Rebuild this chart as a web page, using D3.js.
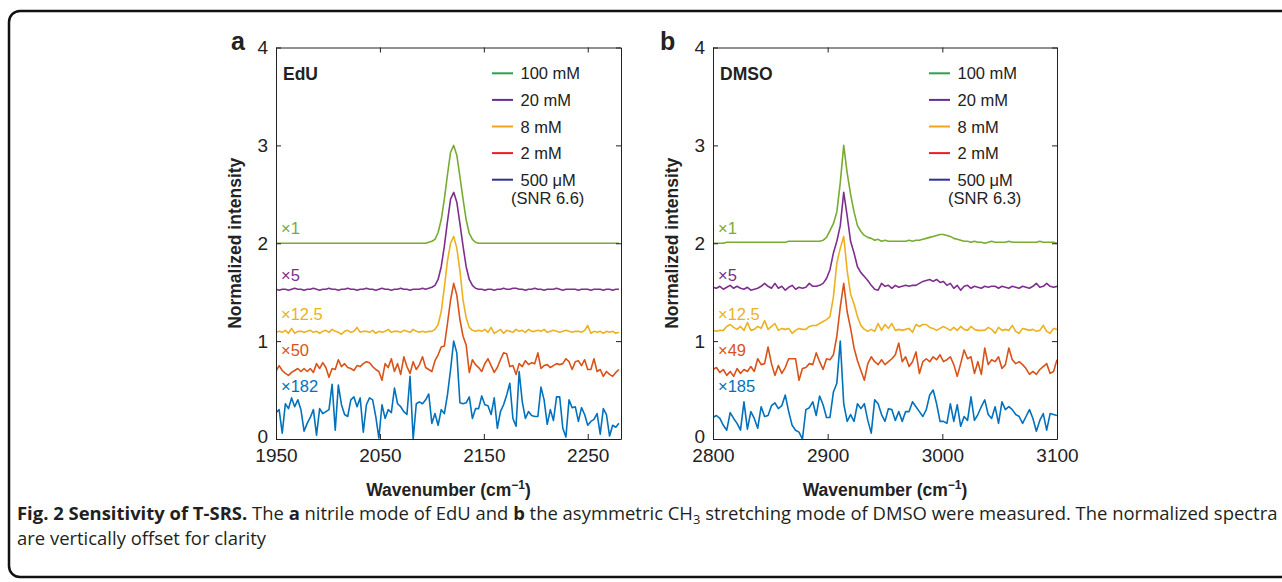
<!DOCTYPE html>
<html>
<head>
<meta charset="utf-8">
<script src="https://cdn.jsdelivr.net/npm/d3@7"></script>
<style>
  html, body { margin: 0; padding: 0; background: #fff; }
  svg { display: block; }
  .axis text { font-family: 'Liberation Sans', Arial, sans-serif; fill: #222; }
  .axis path, .axis line { stroke: #222; stroke-width: 1; }
  .lbl { font-family: 'Liberation Sans', Arial, sans-serif; fill: #222; }
</style>
</head>
<body>
<svg id="chart" width="1282" height="582"></svg>
<script>
// ---- data ----
// panel a: EdU nitrile mode, wavenumber grid in cm-1
const edu_wavenumber = d3.range(1950, 2281, 3);
const edu_100mM = [
  2.00,2.00,2.00,2.00,2.00,2.00,2.00,2.00,2.00,2.00,
  2.00,2.00,2.00,2.00,2.00,2.00,2.00,2.00,2.00,2.00,
  2.00,2.00,2.00,2.00,2.00,2.00,2.00,2.00,2.00,2.00,
  2.00,2.00,2.00,2.00,2.00,2.00,2.00,2.00,2.00,2.00,
  2.00,2.00,2.00,2.00,2.00,2.00,2.00,2.00,2.00,2.01,
  2.02,2.04,2.11,2.24,2.45,2.70,2.93,3.00,2.90,2.68,
  2.45,2.24,2.10,2.04,2.01,2.00,2.00,2.00,2.00,2.00,
  2.00,2.00,2.00,2.00,2.00,2.00,2.00,2.00,2.00,2.00,
  2.00,2.00,2.00,2.00,2.00,2.00,2.00,2.00,2.00,2.00,
  2.00,2.00,2.00,2.00,2.00,2.00,2.00,2.00,2.00,2.00,
  2.00,2.00,2.00,2.00,2.00,2.00,2.00,2.00,2.00,2.00,2.00];
const edu_20mM = [
  1.53,1.52,1.53,1.53,1.52,1.53,1.54,1.53,1.53,1.52,
  1.53,1.53,1.54,1.53,1.52,1.53,1.53,1.54,1.53,1.53,
  1.52,1.53,1.53,1.54,1.53,1.53,1.52,1.53,1.53,1.54,
  1.53,1.53,1.52,1.53,1.54,1.53,1.53,1.52,1.53,1.53,
  1.54,1.53,1.53,1.52,1.53,1.53,1.53,1.54,1.53,1.54,
  1.55,1.57,1.63,1.76,1.97,2.22,2.45,2.52,2.42,2.20,
  1.97,1.76,1.63,1.57,1.54,1.53,1.53,1.52,1.53,1.53,
  1.52,1.53,1.53,1.54,1.53,1.53,1.54,1.54,1.53,1.53,
  1.52,1.53,1.53,1.54,1.53,1.53,1.52,1.53,1.53,1.53,
  1.54,1.53,1.52,1.53,1.53,1.53,1.53,1.52,1.53,1.53,
  1.53,1.52,1.53,1.53,1.53,1.52,1.53,1.53,1.52,1.53,1.53];
const edu_8mM = [
  1.09,1.10,1.09,1.11,1.08,1.13,1.08,1.10,1.10,1.09,
  1.10,1.11,1.09,1.10,1.08,1.10,1.11,1.09,1.12,1.10,
  1.09,1.07,1.10,1.11,1.09,1.10,1.14,1.09,1.10,1.10,
  1.09,1.11,1.08,1.10,1.09,1.10,1.12,1.09,1.10,1.10,
  1.09,1.11,1.10,1.09,1.12,1.10,1.09,1.10,1.09,1.10,
  1.10,1.12,1.17,1.30,1.55,1.82,2.00,2.07,1.95,1.72,
  1.42,1.24,1.14,1.11,1.10,1.11,1.10,1.12,1.09,1.14,
  1.08,1.10,1.12,1.08,1.11,1.10,1.09,1.12,1.10,1.11,
  1.09,1.12,1.10,1.10,1.11,1.10,1.12,1.09,1.10,1.11,
  1.10,1.09,1.10,1.11,1.10,1.09,1.10,1.10,1.09,1.11,
  1.16,1.08,1.10,1.09,1.10,1.08,1.10,1.09,1.10,1.08,1.09];
const edu_2mM = [
  0.69,0.75,0.70,0.67,0.65,0.68,0.70,0.72,0.69,0.72,
  0.69,0.72,0.68,0.77,0.72,0.78,0.73,0.63,0.72,0.71,
  0.81,0.74,0.77,0.73,0.72,0.70,0.75,0.74,0.77,0.79,
  0.78,0.74,0.71,0.69,0.60,0.77,0.73,0.82,0.69,0.77,
  0.66,0.84,0.74,0.67,0.79,0.71,0.76,0.84,0.73,0.71,
  0.69,0.80,0.86,0.94,0.95,1.18,1.42,1.59,1.47,1.22,
  1.05,0.96,0.68,0.81,0.76,0.73,0.69,0.77,0.82,0.75,
  0.68,0.73,0.81,0.88,0.87,0.74,0.75,0.66,0.77,0.74,
  0.80,0.76,0.78,0.77,0.88,0.72,0.75,0.76,0.73,0.75,
  0.77,0.76,0.77,0.82,0.79,0.71,0.79,0.80,0.75,0.81,
  0.71,0.71,0.82,0.69,0.71,0.64,0.69,0.66,0.64,0.68,0.71];
const edu_500uM = [
  0.27,0.30,0.06,0.36,0.31,0.42,0.33,0.40,0.30,0.08,
  0.16,0.22,0.30,0.04,0.31,0.26,0.28,0.30,0.56,0.09,
  0.55,0.35,0.25,0.23,0.40,0.43,0.33,0.42,0.07,0.35,
  0.42,0.40,0.23,0.01,0.35,0.21,0.30,0.27,0.52,0.36,
  0.33,0.28,0.25,0.64,0.00,0.36,0.38,0.36,0.40,0.46,
  0.16,0.26,0.14,0.30,0.26,0.45,0.71,1.00,0.88,0.37,
  0.36,0.37,0.43,0.21,0.31,0.31,0.44,0.35,0.34,0.25,
  0.42,0.11,0.28,0.35,0.45,0.57,0.21,0.13,0.69,0.38,
  0.21,0.28,0.24,0.23,0.23,0.53,0.40,0.15,0.30,0.19,
  0.43,0.43,0.11,0.02,0.40,0.32,0.33,0.18,0.32,0.25,
  0.14,0.18,0.20,0.26,0.05,0.31,0.25,0.03,0.14,0.12,0.16];

// panel b: DMSO CH3 stretch
const dmso_wavenumber = d3.range(2800, 3101, 3);
const dmso_100mM = [
  2.00,2.00,2.00,2.00,2.01,2.01,2.01,2.01,2.01,2.01,
  2.01,2.01,2.01,2.01,2.01,2.01,2.01,2.01,2.01,2.01,
  2.01,2.01,2.02,2.02,2.02,2.02,2.02,2.02,2.02,2.02,
  2.02,2.02,2.03,2.06,2.13,2.20,2.32,2.62,3.00,2.72,
  2.50,2.32,2.18,2.12,2.08,2.06,2.05,2.03,2.04,2.02,
  2.03,2.02,2.02,2.02,2.02,2.02,2.02,2.03,2.02,2.03,
  2.03,2.04,2.05,2.06,2.07,2.08,2.09,2.09,2.08,2.07,
  2.05,2.04,2.03,2.02,2.02,2.01,2.02,2.01,2.01,2.00,
  2.01,2.02,2.01,2.01,2.01,2.01,2.02,2.01,2.01,2.01,
  2.01,2.01,2.01,2.01,2.01,2.02,2.01,2.01,2.01,2.01,2.00];
const dmso_20mM = [
  1.55,1.54,1.56,1.53,1.55,1.57,1.54,1.56,1.54,1.53,
  1.55,1.52,1.53,1.54,1.56,1.59,1.56,1.54,1.59,1.54,
  1.56,1.52,1.55,1.57,1.53,1.55,1.54,1.55,1.59,1.56,
  1.56,1.57,1.59,1.64,1.73,1.90,2.02,2.18,2.52,2.28,
  2.02,1.90,1.76,1.70,1.66,1.62,1.57,1.53,1.52,1.59,
  1.56,1.57,1.54,1.57,1.55,1.56,1.57,1.56,1.57,1.57,
  1.59,1.61,1.62,1.63,1.61,1.63,1.60,1.61,1.57,1.59,
  1.54,1.57,1.52,1.56,1.57,1.54,1.56,1.55,1.54,1.56,
  1.55,1.56,1.56,1.54,1.56,1.55,1.54,1.56,1.55,1.54,
  1.56,1.55,1.54,1.56,1.59,1.55,1.56,1.59,1.56,1.55,1.56];
const dmso_8mM = [
  1.11,1.10,1.11,1.11,1.15,1.17,1.14,1.12,1.15,1.11,
  1.19,1.11,1.12,1.15,1.13,1.21,1.12,1.15,1.18,1.11,
  1.13,1.12,1.13,1.08,1.11,1.13,1.12,1.12,1.15,1.16,
  1.16,1.18,1.20,1.22,1.25,1.45,1.80,1.95,2.07,1.72,
  1.48,1.38,1.25,1.16,1.12,1.10,1.12,1.10,1.18,1.11,
  1.17,1.13,1.18,1.11,1.12,1.11,1.12,1.13,1.09,1.17,
  1.15,1.17,1.17,1.14,1.13,1.11,1.13,1.15,1.13,1.11,
  1.14,1.11,1.15,1.12,1.11,1.15,1.12,1.11,1.11,1.11,
  1.14,1.12,1.08,1.14,1.11,1.12,1.11,1.16,1.10,1.08,
  1.13,1.12,1.11,1.12,1.10,1.11,1.16,1.10,1.08,1.13,1.12];
const dmso_2mM = [
  0.71,0.73,0.68,0.71,0.65,0.69,0.64,0.72,0.67,0.71,
  0.69,0.74,0.69,0.82,0.76,0.77,0.94,0.77,0.65,0.75,
  0.67,0.73,0.82,0.82,0.82,0.60,0.72,0.73,0.77,0.76,
  0.88,0.79,0.71,0.82,0.81,0.86,1.05,1.35,1.59,1.30,
  1.13,0.93,0.80,0.70,0.60,0.77,0.84,0.79,0.76,0.81,
  0.76,0.79,0.82,0.86,0.98,0.79,0.84,0.74,0.79,0.89,
  0.67,0.79,0.82,0.79,0.84,0.81,0.86,0.79,0.81,0.84,
  0.76,0.64,0.77,0.91,0.82,0.84,0.67,0.79,0.66,0.93,
  0.76,0.81,0.79,0.84,0.72,0.76,0.93,0.81,0.77,0.79,
  0.76,0.72,0.66,0.69,0.66,0.71,0.74,0.77,0.67,0.69,0.81];
const dmso_500uM = [
  0.22,0.24,0.21,0.14,0.09,0.27,0.21,0.16,0.09,0.38,
  0.10,0.28,0.21,0.11,0.33,0.23,0.24,0.34,0.37,0.31,
  0.34,0.45,0.28,0.14,0.09,0.07,0.00,0.30,0.32,0.38,
  0.24,0.44,0.35,0.22,0.22,0.48,0.57,1.00,0.36,0.18,
  0.25,0.18,0.36,0.31,0.36,0.19,0.06,0.40,0.36,0.25,
  0.18,0.31,0.30,0.19,0.28,0.18,0.28,0.28,0.38,0.33,
  0.28,0.23,0.30,0.45,0.50,0.36,0.18,0.18,0.16,0.36,
  0.18,0.35,0.13,0.23,0.19,0.43,0.19,0.25,0.33,0.40,
  0.25,0.21,0.33,0.16,0.38,0.30,0.33,0.30,0.25,0.23,
  0.16,0.23,0.30,0.21,0.08,0.19,0.26,0.09,0.26,0.25,0.24];

const conc_labels = ['100 mM', '20 mM', '8 mM', '2 mM', '500 \u03bcM'];
const edu_factors = ['\u00d71', '\u00d75', '\u00d712.5', '\u00d750', '\u00d7182'];
const dmso_factors = ['\u00d71', '\u00d75', '\u00d712.5', '\u00d749', '\u00d7185'];
const y_ticks = [0, 1, 2, 3, 4];
const edu_x_ticks = [1950, 2050, 2150, 2250];
const dmso_x_ticks = [2800, 2900, 3000, 3100];

// ---- styles ----
const curve_colors = ['#77AC30', '#7E2F8E', '#EDB120', '#D95319', '#0072BD'];
const legend_colors = ['#2BA24C', '#662D91', '#F7A21B', '#ED1C24', '#2E3192'];
const factor_y = [234, 280.5, 320, 356, 391.5]; // baseline pixel of the x-factor notes

const svg = d3.select('svg#chart');

// figure frame (rounded, runs off the right edge)
svg.append('rect')
    .attr('x', 9).attr('y', 11).attr('width', 1300).attr('height', 566)
    .attr('rx', 11).attr('fill', 'none').attr('stroke', '#111').attr('stroke-width', 2.5);

const drawPanel = (p) => {
    const w = p.right - p.left, h = p.bottom - p.top;
    const g = svg.append('g').attr('transform', 'translate(' + p.left + ',' + p.top + ')');
    const x = d3.scaleLinear().domain(p.xdomain).range([0, w]);
    const y = d3.scaleLinear().domain([0, 4]).range([h, 0]);

    g.append('clipPath').attr('id', 'clip_' + p.name)
        .append('rect').attr('width', w).attr('height', h);

    const line = d3.line()
        .x((d, i) => x(p.wn[i]))
        .y(d => y(d));

    g.append('g').attr('clip-path', 'url(#clip_' + p.name + ')')
        .selectAll('path.spec').data(p.series).enter()
        .append('path').classed('spec', true)
        .attr('d', d => line(d))
        .attr('fill', 'none')
        .attr('stroke', (d, i) => curve_colors[i])
        .attr('stroke-width', 1.6)
        .attr('stroke-linejoin', 'round');

    // box with inward ticks on all four sides
    g.append('g').classed('axis', true).attr('transform', 'translate(0,' + h + ')')
        .call(d3.axisBottom(x).tickValues(p.xticks).tickSizeInner(-5).tickSizeOuter(0)
            .tickPadding(10).tickFormat(d3.format('d')));
    g.append('g').classed('axis', true)
        .call(d3.axisTop(x).tickValues(p.xticks).tickSizeInner(-5).tickSizeOuter(0).tickFormat(''));
    g.append('g').classed('axis', true)
        .call(d3.axisLeft(y).tickValues(y_ticks).tickSizeInner(-5).tickSizeOuter(0)
            .tickPadding(8).tickFormat(d3.format('d')));
    g.append('g').classed('axis', true).attr('transform', 'translate(' + w + ',0)')
        .call(d3.axisRight(y).tickValues(y_ticks).tickSizeInner(-5).tickSizeOuter(0).tickFormat(''));
    g.selectAll('.axis text').style('font-size', '19px');
    // the 0 label sits just above the first x label, as in the figure
    g.selectAll('.axis .tick text').filter(d => d === 0 && p.xticks.indexOf(0) < 0)
        .attr('dy', '0.2em');

    // axis titles
    g.append('text').classed('lbl', true)
        .attr('transform', 'translate(-35,' + (h / 2) + ') rotate(-90)')
        .attr('text-anchor', 'middle')
        .style('font-size', '17.5px').style('font-weight', 'bold')
        .text('Normalized intensity');
    const xt = g.append('text').classed('lbl', true)
        .attr('x', w / 2).attr('y', h + 57)
        .attr('text-anchor', 'middle')
        .style('font-size', '17.5px').style('font-weight', 'bold');
    xt.append('tspan').text('Wavenumber (cm');
    xt.append('tspan').attr('dy', -7).style('font-size', '12px').text('\u22121');
    xt.append('tspan').attr('dy', 7).text(')');

    // panel letter and sample name
    svg.append('text').classed('lbl', true)
        .attr('x', p.letter_x).attr('y', 50)
        .style('font-size', '25px').style('font-weight', 'bold')
        .text(p.letter);
    g.append('text').classed('lbl', true)
        .attr('x', 7).attr('y', 80 - p.top)
        .style('font-size', '17.5px').style('font-weight', 'bold')
        .text(p.name);

    // legend
    const leg = g.append('g').attr('transform', 'translate(216,' + (73.3 - p.top) + ')');
    const items = leg.selectAll('g.item').data(conc_labels).enter()
        .append('g').classed('item', true)
        .attr('transform', (d, i) => 'translate(0,' + (i * 26.6) + ')');
    items.append('line')
        .attr('x1', 0).attr('x2', 21).attr('y1', 0).attr('y2', 0)
        .attr('stroke', (d, i) => legend_colors[i]).attr('stroke-width', 2);
    items.append('text').classed('lbl', true)
        .attr('x', 28.5).attr('y', 6)
        .style('font-size', '16.5px')
        .text(d => d);
    leg.append('text').classed('lbl', true)
        .attr('x', 19).attr('y', 4 * 26.6 + 24)
        .style('font-size', '16.5px')
        .text(p.snr);

    // scaling factors
    g.selectAll('text.factor').data(p.factors).enter()
        .append('text').classed('factor', true)
        .attr('x', 5).attr('y', (d, i) => factor_y[i] - p.top)
        .style('font-family', "'Liberation Sans', Arial, sans-serif")
        .style('font-size', '16.5px')
        .attr('fill', (d, i) => curve_colors[i])
        .text(d => d);
};

drawPanel({
    name: 'EdU', letter: 'a', letter_x: 231, snr: '(SNR 6.6)',
    left: 276, right: 621, top: 47.5, bottom: 439,
    xdomain: [1950, 2282], xticks: edu_x_ticks, wn: edu_wavenumber,
    series: [edu_100mM, edu_20mM, edu_8mM, edu_2mM, edu_500uM],
    factors: edu_factors,
});
drawPanel({
    name: 'DMSO', letter: 'b', letter_x: 660, snr: '(SNR 6.3)',
    left: 713, right: 1057, top: 47.5, bottom: 439,
    xdomain: [2800, 3100], xticks: dmso_x_ticks, wn: dmso_wavenumber,
    series: [dmso_100mM, dmso_20mM, dmso_8mM, dmso_2mM, dmso_500uM],
    factors: dmso_factors,
});

// caption
const capFont = "'Open Sans', 'Noto Sans', sans-serif";
const cap1 = svg.append('text').attr('x', 17).attr('y', 520)
    .style('font-family', capFont).style('font-size', '16px').attr('fill', '#231f20');
cap1.append('tspan').style('font-weight', 'bold').text('Fig. 2 Sensitivity of T-SRS.');
cap1.append('tspan').text(' The ');
cap1.append('tspan').style('font-weight', 'bold').text('a');
cap1.append('tspan').text(' nitrile mode of EdU and ');
cap1.append('tspan').style('font-weight', 'bold').text('b');
cap1.append('tspan').text(' the asymmetric CH');
cap1.append('tspan').attr('dy', 4).style('font-size', '11px').text('3');
cap1.append('tspan').attr('dy', -4).text(' stretching mode of DMSO were measured. The normalized spectra');
const cap2 = svg.append('text').attr('x', 17).attr('y', 545)
    .style('font-family', capFont).style('font-size', '16px').attr('fill', '#231f20')
    .text('are vertically offset for clarity');

// fit caption line to the frame width
const natural = cap1.node().getComputedTextLength();
const fs = 16 * 1261 / natural;
cap1.style('font-size', fs + 'px');
cap1.selectAll('tspan').filter(function () { return this.textContent === '3'; })
    .style('font-size', (fs * 0.7) + 'px');
cap2.style('font-size', fs + 'px');
</script>
</body>
</html>
